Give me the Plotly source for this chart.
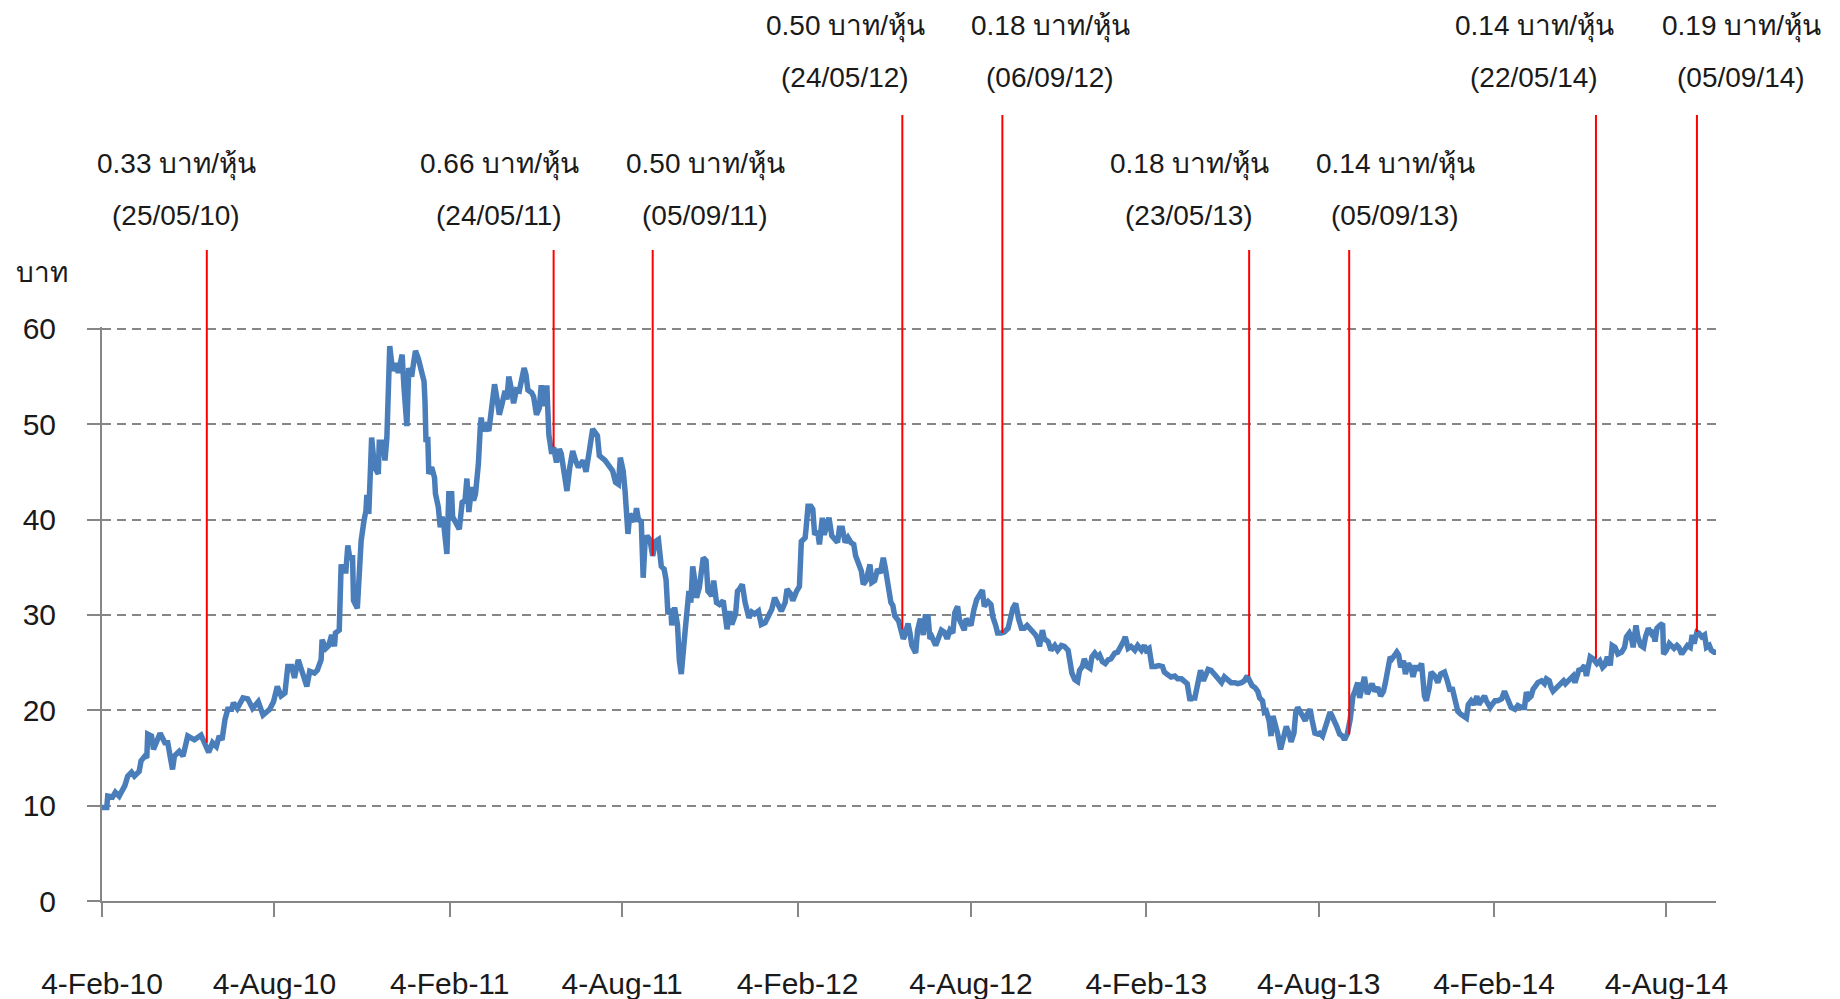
import pandas as pd
import plotly.graph_objects as go

# Daily closing price, sampled at the turning points of the series.
# Offsets are calendar days counted from the first trading day.
first_day = pd.Timestamp("2010-02-04")

day_offset = [
    0, 5, 6, 11, 14, 18, 24, 27, 31, 34, 39, 41, 45, 47, 48, 52, 54, 57, 61, 66,
    69, 74, 76, 81, 85, 90, 97, 104, 108, 112, 116, 120, 123, 126, 129, 132, 136, 138, 142, 148,
    153, 158, 164, 169, 176, 180, 184, 188, 192, 195, 199, 202, 206, 211, 215, 218, 223, 226, 230, 231,
    235, 238, 241, 244, 245, 249, 251, 253, 256, 258, 260, 263, 264, 268, 270, 272, 275, 277, 278, 280,
    283, 286, 290, 291, 295, 297, 299, 301, 302, 305, 308, 311, 315, 317, 320, 322, 325, 327, 329, 332,
    334, 338, 339, 340, 342, 343, 346, 349, 350, 353, 355, 357, 359, 362, 364, 367, 368, 371, 375, 378,
    381, 383, 385, 388, 390, 392, 395, 397, 398, 400, 403, 406, 409, 412, 415, 417, 420, 423, 425, 427,
    430, 432, 435, 438, 443, 445, 447, 451, 453, 456, 459, 461, 463, 465, 467, 469, 472, 474, 477, 480,
    482, 485, 488, 491, 494, 497, 500, 505, 508, 511, 515, 520, 522, 528, 533, 536, 539, 542, 544, 547,
    549, 550, 552, 554, 557,
    559, 561, 563, 566, 568, 570, 572, 575, 578, 581, 584, 587, 590, 592, 594, 597, 598, 601, 604, 606,
    608, 612, 614, 616, 618, 620, 622, 624, 627, 631, 634, 636, 640, 642, 645, 648, 652, 654, 656, 659,
    661, 665, 667, 669, 672, 675, 679, 682, 685, 689, 692, 696, 699, 703, 706, 710, 713, 717, 719, 723,
    725, 729, 732, 734, 738, 739, 741, 744, 746, 748, 751, 753, 756, 758, 760, 763, 766, 768, 772, 774,
    777, 780, 783, 786, 789, 791, 794, 797, 799, 802, 806, 808, 811, 814, 817, 820, 822, 825, 828, 830,
    832, 836, 839, 841,
    842, 846, 848, 850, 854, 856, 859, 862, 864, 867, 869, 871, 875, 877, 881, 884, 887, 890, 893, 895,
    898, 900, 903, 905, 907, 910, 912, 915, 918, 921, 924, 926, 930, 933, 935, 938, 940, 944, 947, 951,
    954, 956, 959, 961, 962, 965, 968, 971, 974, 977, 980, 982, 984, 987, 989, 993, 996, 1000, 1003, 1007,
    1010, 1014, 1016, 1018, 1021, 1024, 1026, 1029, 1031, 1034, 1037, 1039, 1042, 1045, 1047, 1050, 1053, 1056, 1059, 1063,
    1066, 1070, 1072, 1074, 1077, 1080, 1084, 1087, 1091, 1094, 1096, 1099, 1101, 1102, 1106, 1109, 1113, 1115, 1119, 1122,
    1126, 1129, 1133, 1136, 1139, 1142, 1143, 1147, 1149, 1151, 1153, 1156, 1158, 1161, 1164, 1168, 1171, 1175, 1178, 1182,
    1185, 1189, 1192, 1196, 1199, 1202, 1205, 1207, 1210, 1213, 1215, 1218, 1220, 1222, 1225, 1227, 1229, 1232, 1234, 1237,
    1239, 1241, 1243, 1246, 1248, 1251, 1253, 1255, 1258, 1261, 1263, 1265, 1268, 1270, 1273, 1276, 1278, 1281, 1283, 1286,
    1289, 1291, 1294, 1296, 1299, 1302, 1304, 1307, 1310, 1311, 1313, 1315, 1318, 1320, 1323, 1325, 1328, 1331, 1333, 1336,
    1339, 1342, 1345, 1347, 1350, 1352, 1354, 1356, 1359, 1361, 1363, 1366, 1368, 1371, 1374, 1376, 1379, 1381, 1385, 1388,
    1390, 1393, 1395, 1399, 1402, 1405,
    1409, 1412, 1415, 1417, 1420, 1423, 1426, 1430, 1432, 1434, 1437, 1440, 1443, 1445, 1448, 1451, 1453, 1457, 1459, 1462,
    1465, 1469, 1472, 1474, 1477, 1479, 1483, 1486, 1490, 1493, 1495, 1498, 1500, 1502, 1505, 1507, 1511, 1514, 1516, 1519,
    1521, 1523, 1527, 1530, 1534, 1536, 1539, 1542, 1544, 1546, 1548, 1550, 1553, 1556, 1558, 1561, 1562, 1565, 1569, 1572,
    1575, 1577, 1580, 1583, 1585, 1588, 1591, 1595, 1598, 1600, 1603, 1605, 1607, 1610, 1612, 1615, 1618, 1620, 1623, 1626,
    1628, 1630, 1632, 1635, 1638, 1639, 1642, 1645, 1647, 1650, 1653, 1655, 1658, 1661, 1664, 1667, 1669, 1671, 1674, 1676,
    1679, 1682, 1684, 1687, 1689, 1692, 1694,
]

close_price = [
    9.8, 9.8, 11.0, 10.9, 11.4, 11.0, 12.1, 13.1, 13.5, 13.1, 13.6, 14.7, 15.2, 15.0, 17.5, 17.3, 15.9, 16.6, 17.6, 16.6,
    16.6, 13.8, 15.2, 15.7, 15.2, 17.3, 16.9, 17.4, 16.6, 15.6, 16.6, 16.2, 17.3, 16.9, 19.0, 20.1, 20.1, 20.8, 20.2, 21.3,
    21.2, 20.2, 20.9, 19.5, 20.1, 20.9, 22.5, 21.5, 21.8, 24.6, 24.6, 23.4, 25.3, 23.9, 22.5, 24.1, 23.9, 24.2, 25.3, 27.4,
    26.5, 26.8, 27.9, 26.7, 28.1, 28.4, 35.3, 34.6, 34.6, 37.3, 36.0, 36.0, 31.5, 30.7, 33.6, 37.8, 39.9, 40.9, 42.6, 40.6,
    48.6, 45.5, 44.8, 48.1, 48.1, 46.2, 48.6, 54.9, 58.2, 55.6, 56.4, 55.4, 57.3, 53.8, 49.8, 55.9, 55.0, 56.4, 57.7, 56.9,
    55.9, 54.5, 52.4, 48.4, 48.4, 44.8, 45.5, 44.4, 42.7, 41.3, 39.2, 40.3, 39.2, 36.4, 42.7, 42.7, 40.3, 39.6, 39.0, 41.8,
    42.0, 44.3, 40.8, 43.4, 42.0, 42.7, 45.8, 49.6, 50.7, 49.3, 49.8, 49.3, 52.4, 54.2, 52.4, 51.0, 52.2, 53.5, 52.6, 55.0,
    53.5, 52.2, 53.6, 53.5, 55.9, 55.2, 53.6, 53.3, 52.9, 51.0, 51.7, 54.1, 51.9, 53.8, 53.8, 48.9, 46.9, 47.6, 46.0, 47.4,
    46.9, 45.1, 43.0, 45.5, 47.2, 46.2, 45.5, 46.2, 45.0, 46.9, 49.5, 48.8, 46.7, 46.2, 45.5, 45.1, 43.9, 43.7, 46.5, 45.1,
    43.0, 41.3, 38.5, 40.6, 40.1,
    39.8, 41.2, 40.0, 39.8, 33.9, 37.7, 38.3, 37.9, 36.2, 37.7, 37.9, 35.1, 34.8, 33.7, 30.1, 30.6, 28.9, 30.8, 29.0, 25.2,
    23.8, 28.3, 30.1, 32.5, 31.3, 35.1, 33.7, 31.8, 32.9, 36.0, 35.7, 32.5, 32.0, 33.6, 31.3, 31.1, 31.5, 30.1, 28.5, 30.4,
    29.0, 30.1, 32.5, 32.7, 33.2, 31.3, 29.7, 30.3, 30.1, 30.4, 29.0, 29.2, 29.9, 30.6, 31.8, 30.9, 30.4, 31.3, 32.7, 32.2,
    31.5, 32.5, 33.0, 37.7, 38.1, 39.1, 41.4, 41.4, 41.1, 38.4, 38.8, 37.4, 40.2, 38.4, 39.0, 40.2, 38.3, 38.1, 37.6, 39.1,
    39.1, 37.6, 38.1, 37.6, 37.4, 36.2, 35.5, 34.6, 33.2, 33.6, 35.3, 33.4, 33.6, 34.8, 34.4, 36.0, 35.0, 33.2, 31.3, 31.0,
    29.9, 29.4, 28.5, 27.5,
    27.7, 29.1, 28.1, 26.8, 26.0, 28.4, 29.6, 27.9, 29.8, 29.8, 27.5, 27.7, 26.8, 27.5, 28.4, 28.2, 27.5, 28.4, 28.1, 30.2,
    30.9, 29.5, 28.6, 28.4, 29.6, 29.1, 28.9, 30.5, 31.6, 32.1, 32.6, 30.9, 31.4, 31.1, 29.8, 28.9, 28.1, 28.1, 28.2, 28.6,
    29.8, 30.7, 31.2, 29.8, 29.6, 28.6, 28.6, 28.9, 28.6, 28.2, 27.9, 27.5, 26.7, 28.4, 27.5, 27.2, 26.3, 26.8, 26.3, 26.8,
    26.7, 26.3, 24.9, 23.9, 23.2, 23.0, 24.2, 24.6, 25.4, 24.6, 24.4, 25.6, 26.0, 25.6, 25.8, 25.1, 24.9, 25.3, 25.4, 26.0,
    26.1, 26.7, 27.2, 27.7, 26.5, 26.7, 26.3, 26.8, 26.3, 26.8, 26.3, 26.5, 25.6, 24.6, 24.6, 24.7, 24.6, 24.0, 23.7, 23.5,
    23.6, 23.3, 23.3, 23.1, 22.8, 21.0, 21.3, 21.3, 22.4, 23.5, 24.2, 23.1, 23.6, 24.3, 24.2, 23.8, 23.5, 22.9, 23.5, 23.1,
    22.9, 22.9, 22.8, 22.9, 23.1, 23.6, 23.1, 22.6, 22.4, 22.0, 21.3, 21.0, 19.8, 19.9, 18.9, 17.3, 19.4, 18.5, 17.5, 15.9,
    16.7, 17.6, 18.3, 17.5, 16.7, 17.6, 19.8, 20.3, 19.8, 19.4, 18.9, 19.6, 20.1, 19.0, 17.6, 17.5, 17.6, 17.3, 18.0, 19.2,
    19.8, 19.4, 18.9, 18.3, 17.5, 17.3, 16.9, 17.5, 19.0, 20.3, 21.5, 22.0, 22.9, 21.3, 22.6, 23.5, 21.7, 22.2, 22.8, 22.0,
    22.4, 21.5, 22.0, 22.9, 24.9, 25.6, 25.4, 25.8, 26.1, 25.8, 24.5, 25.2, 23.8, 24.9, 24.5, 23.5, 24.7, 24.2, 24.9, 21.5,
    21.0, 22.4, 24.0, 23.6, 22.9, 23.8,
    24.0, 23.1, 22.0, 22.4, 21.0, 19.9, 19.6, 19.4, 19.2, 20.6, 21.0, 20.6, 21.5, 20.6, 21.0, 21.5, 21.0, 20.3, 20.6, 21.0,
    21.0, 21.2, 22.0, 21.5, 21.0, 20.3, 20.1, 20.5, 20.3, 20.3, 21.9, 21.3, 21.5, 22.2, 22.6, 22.9, 23.1, 22.8, 23.3, 23.1,
    22.4, 22.0, 22.4, 22.8, 23.1, 22.8, 23.1, 23.6, 23.6, 22.9, 23.6, 24.2, 24.3, 24.7, 23.6, 24.7, 25.6, 25.4, 24.9, 25.2,
    24.5, 24.7, 25.6, 24.7, 26.8, 26.6, 25.9, 26.1, 26.6, 27.7, 28.1, 27.7, 26.6, 28.9, 27.7, 26.8, 26.6, 27.7, 28.6, 28.1,
    28.4, 27.2, 28.6, 28.9, 29.1, 25.9, 26.3, 27.0, 26.8, 26.5, 26.8, 26.6, 25.9, 26.5, 26.8, 26.6, 27.9, 27.0, 28.2, 28.1,
    27.7, 27.9, 26.6, 26.8, 26.3, 26.1, 26.1,
]

# Six-monthly date ticks on the horizontal axis
tick_dates = [
    "2010-02-04", "2010-08-04", "2011-02-04", "2011-08-04", "2012-02-04",
    "2012-08-04", "2013-02-04", "2013-08-04", "2014-02-04", "2014-08-04",
]
tick_labels = [
    "4-Feb-10", "4-Aug-10", "4-Feb-11", "4-Aug-11", "4-Feb-12",
    "4-Aug-12", "4-Feb-13", "4-Aug-13", "4-Feb-14", "4-Aug-14",
]
price_ticks = [0, 10, 20, 30, 40, 50, 60]

# Dividend payments: XD date and amount per share
xd_dates = [
    "2010-05-25", "2011-05-24", "2011-09-05", "2012-05-24", "2012-09-06",
    "2013-05-23", "2013-09-05", "2014-05-22", "2014-09-05",
]
dividend_baht = ["0.33", "0.66", "0.50", "0.50", "0.18", "0.18", "0.14", "0.14", "0.19"]
# which row of call-outs each dividend sits in (upper row is higher up)
callout_upper = [False, False, False, True, True, False, False, True, True]
# horizontal centre of each call-out text, in pixels of the page
callout_centre_px = [176, 499, 705, 845, 1050, 1189, 1395, 1534, 1741]

W, H = 1840, 999
M_L, M_R, M_T, M_B = 102, 124, 327, 98
plot_w = W - M_L - M_R
plot_h = H - M_T - M_B

dates = first_day + pd.to_timedelta(day_offset, unit="D")
series = pd.Series(close_price, index=dates)

AXIS_GREY = "#868686"
TEXT = "#1a1a1a"
FONT = "Liberation Sans, Arial, sans-serif"

fig = go.Figure()
fig.add_trace(go.Scatter(
    x=dates, y=close_price, mode="lines",
    line=dict(color="#4A7EBB", width=5.5),
    hoverinfo="skip", showlegend=False,
))

# a hair of headroom so the gridline at the top value is still drawn
y_top = price_ticks[-1]
y_range = [0, y_top + 0.2]
shapes = []
annotations = []


def px_to_paper_y(py):
    return (H - M_B - py) / plot_h


def px_to_paper_x(px):
    return (px - M_L) / plot_w


for d, amt, upper, cx in zip(xd_dates, dividend_baht, callout_upper, callout_centre_px):
    xd = pd.Timestamp(d)
    price_on_day = series[series.index <= xd].iloc[-1]
    line_top = px_to_paper_y(115 if upper else 250)
    # part inside the plot: from the price up to the top of the value axis
    shapes.append(dict(type="line", xref="x", yref="y", x0=xd, x1=xd,
                       y0=price_on_day, y1=y_range[1],
                       line=dict(color="#FF0000", width=2)))
    # part above the plot, up to the call-out
    shapes.append(dict(type="line", xref="x", yref="paper", x0=xd, x1=xd,
                       y0=1, y1=line_top,
                       line=dict(color="#FF0000", width=2)))
    row1 = 26 if upper else 164
    row2 = 77 if upper else 215
    annotations.append(dict(text=f"{amt} บาท/หุ้น", xref="paper", yref="paper",
                            x=px_to_paper_x(cx), y=px_to_paper_y(row1),
                            xanchor="center", yanchor="middle", showarrow=False,
                            font=dict(size=28, color=TEXT, family=FONT)))
    annotations.append(dict(text=xd.strftime("(%d/%m/%y)"), xref="paper", yref="paper",
                            x=px_to_paper_x(cx), y=px_to_paper_y(row2),
                            xanchor="center", yanchor="middle", showarrow=False,
                            font=dict(size=28, color=TEXT, family=FONT)))

# unit label above the value axis
annotations.append(dict(text="บาท", xref="paper", yref="paper",
                        x=px_to_paper_x(14), y=px_to_paper_y(272),
                        xanchor="left", yanchor="middle", showarrow=False,
                        font=dict(size=28, color=TEXT, family=FONT)))

fig.update_layout(
    width=W, height=H,
    margin=dict(l=M_L, r=M_R, t=M_T, b=M_B, pad=0),
    paper_bgcolor="white", plot_bgcolor="white",
    font=dict(family=FONT, size=28, color=TEXT),
    shapes=shapes, annotations=annotations,
    xaxis=dict(
        type="date", range=[dates[0], dates[-1]], automargin=False,
        tickmode="array", tickvals=tick_dates, ticktext=tick_labels,
        ticks="outside", ticklen=14, tickwidth=2, tickcolor=AXIS_GREY,
        showline=True, linecolor=AXIS_GREY, linewidth=2,
        showgrid=False, zeroline=False, ticklabelstandoff=41,
        tickfont=dict(size=30, color=TEXT),
    ),
    yaxis=dict(
        range=y_range, tickmode="array", tickvals=price_ticks, automargin=False,
        ticks="outside", ticklen=13, tickwidth=2, tickcolor=AXIS_GREY,
        showline=True, linecolor=AXIS_GREY, linewidth=2,
        showgrid=True, gridcolor=AXIS_GREY, gridwidth=2, griddash="9px,6px",
        zeroline=False, ticklabelstandoff=25,
        tickfont=dict(size=30, color=TEXT),
    ),
)

fig.write_html("out.html")
